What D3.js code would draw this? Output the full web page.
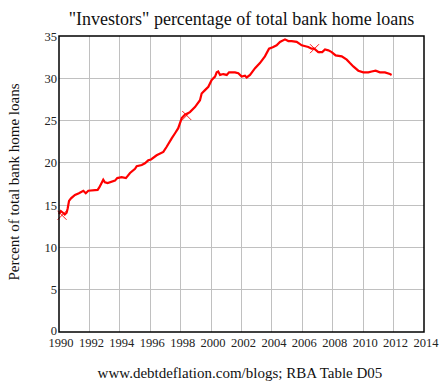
<!DOCTYPE html>
<html><head><meta charset="utf-8">
<script src="https://cdn.jsdelivr.net/npm/d3@7"></script>
<style>body{margin:0;background:#fff}svg{display:block}svg text{font-family:"Liberation Serif","Times New Roman",Times,serif}</style>
</head><body>
<svg id="c" width="445" height="385"></svg>
<script>
const title = '"Investors" percentage of total bank home loans';
const yTitle = "Percent of total bank home loans";
const source = "www.debtdeflation.com/blogs; RBA Table D05";
const xTicks = [1990,1992,1994,1996,1998,2000,2002,2004,2006,2008,2010,2012,2014];
const yTicks = [0,5,10,15,20,25,30,35];
const years = [1990.0,1990.12,1990.26,1990.38,1990.5,1990.57,1990.66,1990.79,1991.05,1991.31,1991.6,1991.76,1991.93,1992.54,1992.65,1992.91,1993.02,1993.2,1993.68,1993.83,1994.12,1994.4,1994.67,1995.0,1995.11,1995.44,1995.65,1995.87,1996.05,1996.42,1996.86,1997.08,1997.41,1997.63,1997.84,1998.07,1998.28,1998.61,1998.94,1999.27,1999.38,1999.6,1999.82,2000.04,2000.26,2000.37,2000.47,2000.59,2000.8,2001.03,2001.18,2001.57,2001.79,2002.01,2002.23,2002.34,2002.56,2002.89,2003.21,2003.54,2003.81,2004.09,2004.31,2004.53,2004.86,2005.08,2005.3,2005.63,2005.96,2006.39,2006.61,2006.78,2007.05,2007.31,2007.49,2007.71,2007.93,2008.19,2008.59,2008.92,2009.13,2009.35,2009.68,2010.01,2010.34,2010.56,2010.82,2011.1,2011.43,2011.76,2011.87];
const values = [13.95,14.3,14.1,13.9,14.1,14.6,15.5,15.8,16.2,16.4,16.7,16.4,16.7,16.8,17.1,18.0,17.7,17.6,17.9,18.2,18.3,18.2,18.8,19.3,19.6,19.75,19.95,20.3,20.4,20.9,21.3,21.9,22.9,23.5,24.1,25.3,25.7,26.0,26.6,27.4,28.2,28.6,29.0,29.8,30.2,30.7,30.8,30.4,30.5,30.4,30.7,30.7,30.6,30.2,30.3,30.1,30.4,31.2,31.8,32.6,33.5,33.7,33.9,34.3,34.6,34.4,34.4,34.3,33.9,33.7,33.5,33.5,33.1,33.1,33.4,33.3,33.1,32.7,32.6,32.2,31.8,31.4,30.9,30.7,30.7,30.8,30.9,30.7,30.7,30.5,30.4];
const markerYears = [1990.2,1998.4,2006.8];
const markerValues = [13.8,25.6,33.5];

const M = {l:59, r:424, t:36, b:332};
const svg = d3.select("#c");
const x = d3.scaleLinear().domain([1990,2014]).range([M.l,M.r]);
const y = d3.scaleLinear().domain([0,35]).range([M.b,M.t]);

// grid
svg.append("g").selectAll("line").data(xTicks.slice(1,-1)).join("line")
  .attr("x1",d=>x(d)).attr("x2",d=>x(d)).attr("y1",M.t).attr("y2",M.b)
  .attr("stroke","#c0c0c0").attr("stroke-width",1).attr("shape-rendering","crispEdges");
svg.append("g").selectAll("line").data(yTicks.slice(1,-1)).join("line")
  .attr("y1",d=>y(d)).attr("y2",d=>y(d)).attr("x1",M.l).attr("x2",M.r)
  .attr("stroke","#c0c0c0").attr("stroke-width",1).attr("shape-rendering","crispEdges");

// tick labels
svg.append("g").selectAll("text").data(xTicks).join("text")
  .attr("x",d=>x(d)+2).attr("y",347).attr("text-anchor","middle")
  .attr("font-size","12.5px").attr("fill","#222").text(d=>String(d));
svg.append("g").selectAll("text").data(yTicks).join("text")
  .attr("x",M.l-2).attr("y",d=>y(d)+(d===0?2.5:4.5)).attr("text-anchor","end")
  .attr("font-size","12.5px").attr("fill","#222").text(d=>String(d));

// data line
const pts = years.map((d,i)=>[d,values[i]]);
svg.append("path").datum(pts)
  .attr("d",d3.line().x(d=>x(d[0])).y(d=>y(d[1])))
  .attr("fill","none").attr("stroke","#ff0000").attr("stroke-width",2.2).attr("stroke-linejoin","miter");

// markers
const mk = svg.append("g").selectAll("g").data(markerYears.map((d,i)=>[d,markerValues[i]])).join("g")
  .attr("transform",d=>`translate(${x(d[0])},${y(d[1])})`);
mk.append("path").attr("d","M-4.5,-4.5L4.5,4.5M-4.5,4.5L4.5,-4.5").attr("stroke","#ff0000").attr("stroke-width",0.9).attr("fill","none");

// frame
svg.append("rect").attr("x",M.l).attr("y",M.t).attr("width",M.r-M.l).attr("height",M.b-M.t)
  .attr("fill","none").attr("stroke","#000").attr("stroke-width",1.5);

// titles
svg.append("text").attr("x",(M.l+M.r)/2).attr("y",25).attr("text-anchor","middle")
  .attr("font-size","18px").attr("fill","#111").text(title);
svg.append("text").attr("transform",`translate(19,182) rotate(-90)`).attr("text-anchor","middle")
  .attr("font-size","15px").attr("fill","#111").text(yTitle);
svg.append("text").attr("x",240).attr("y",378).attr("text-anchor","middle")
  .attr("font-size","15px").attr("fill","#111").text(source);
</script>
</body></html>
